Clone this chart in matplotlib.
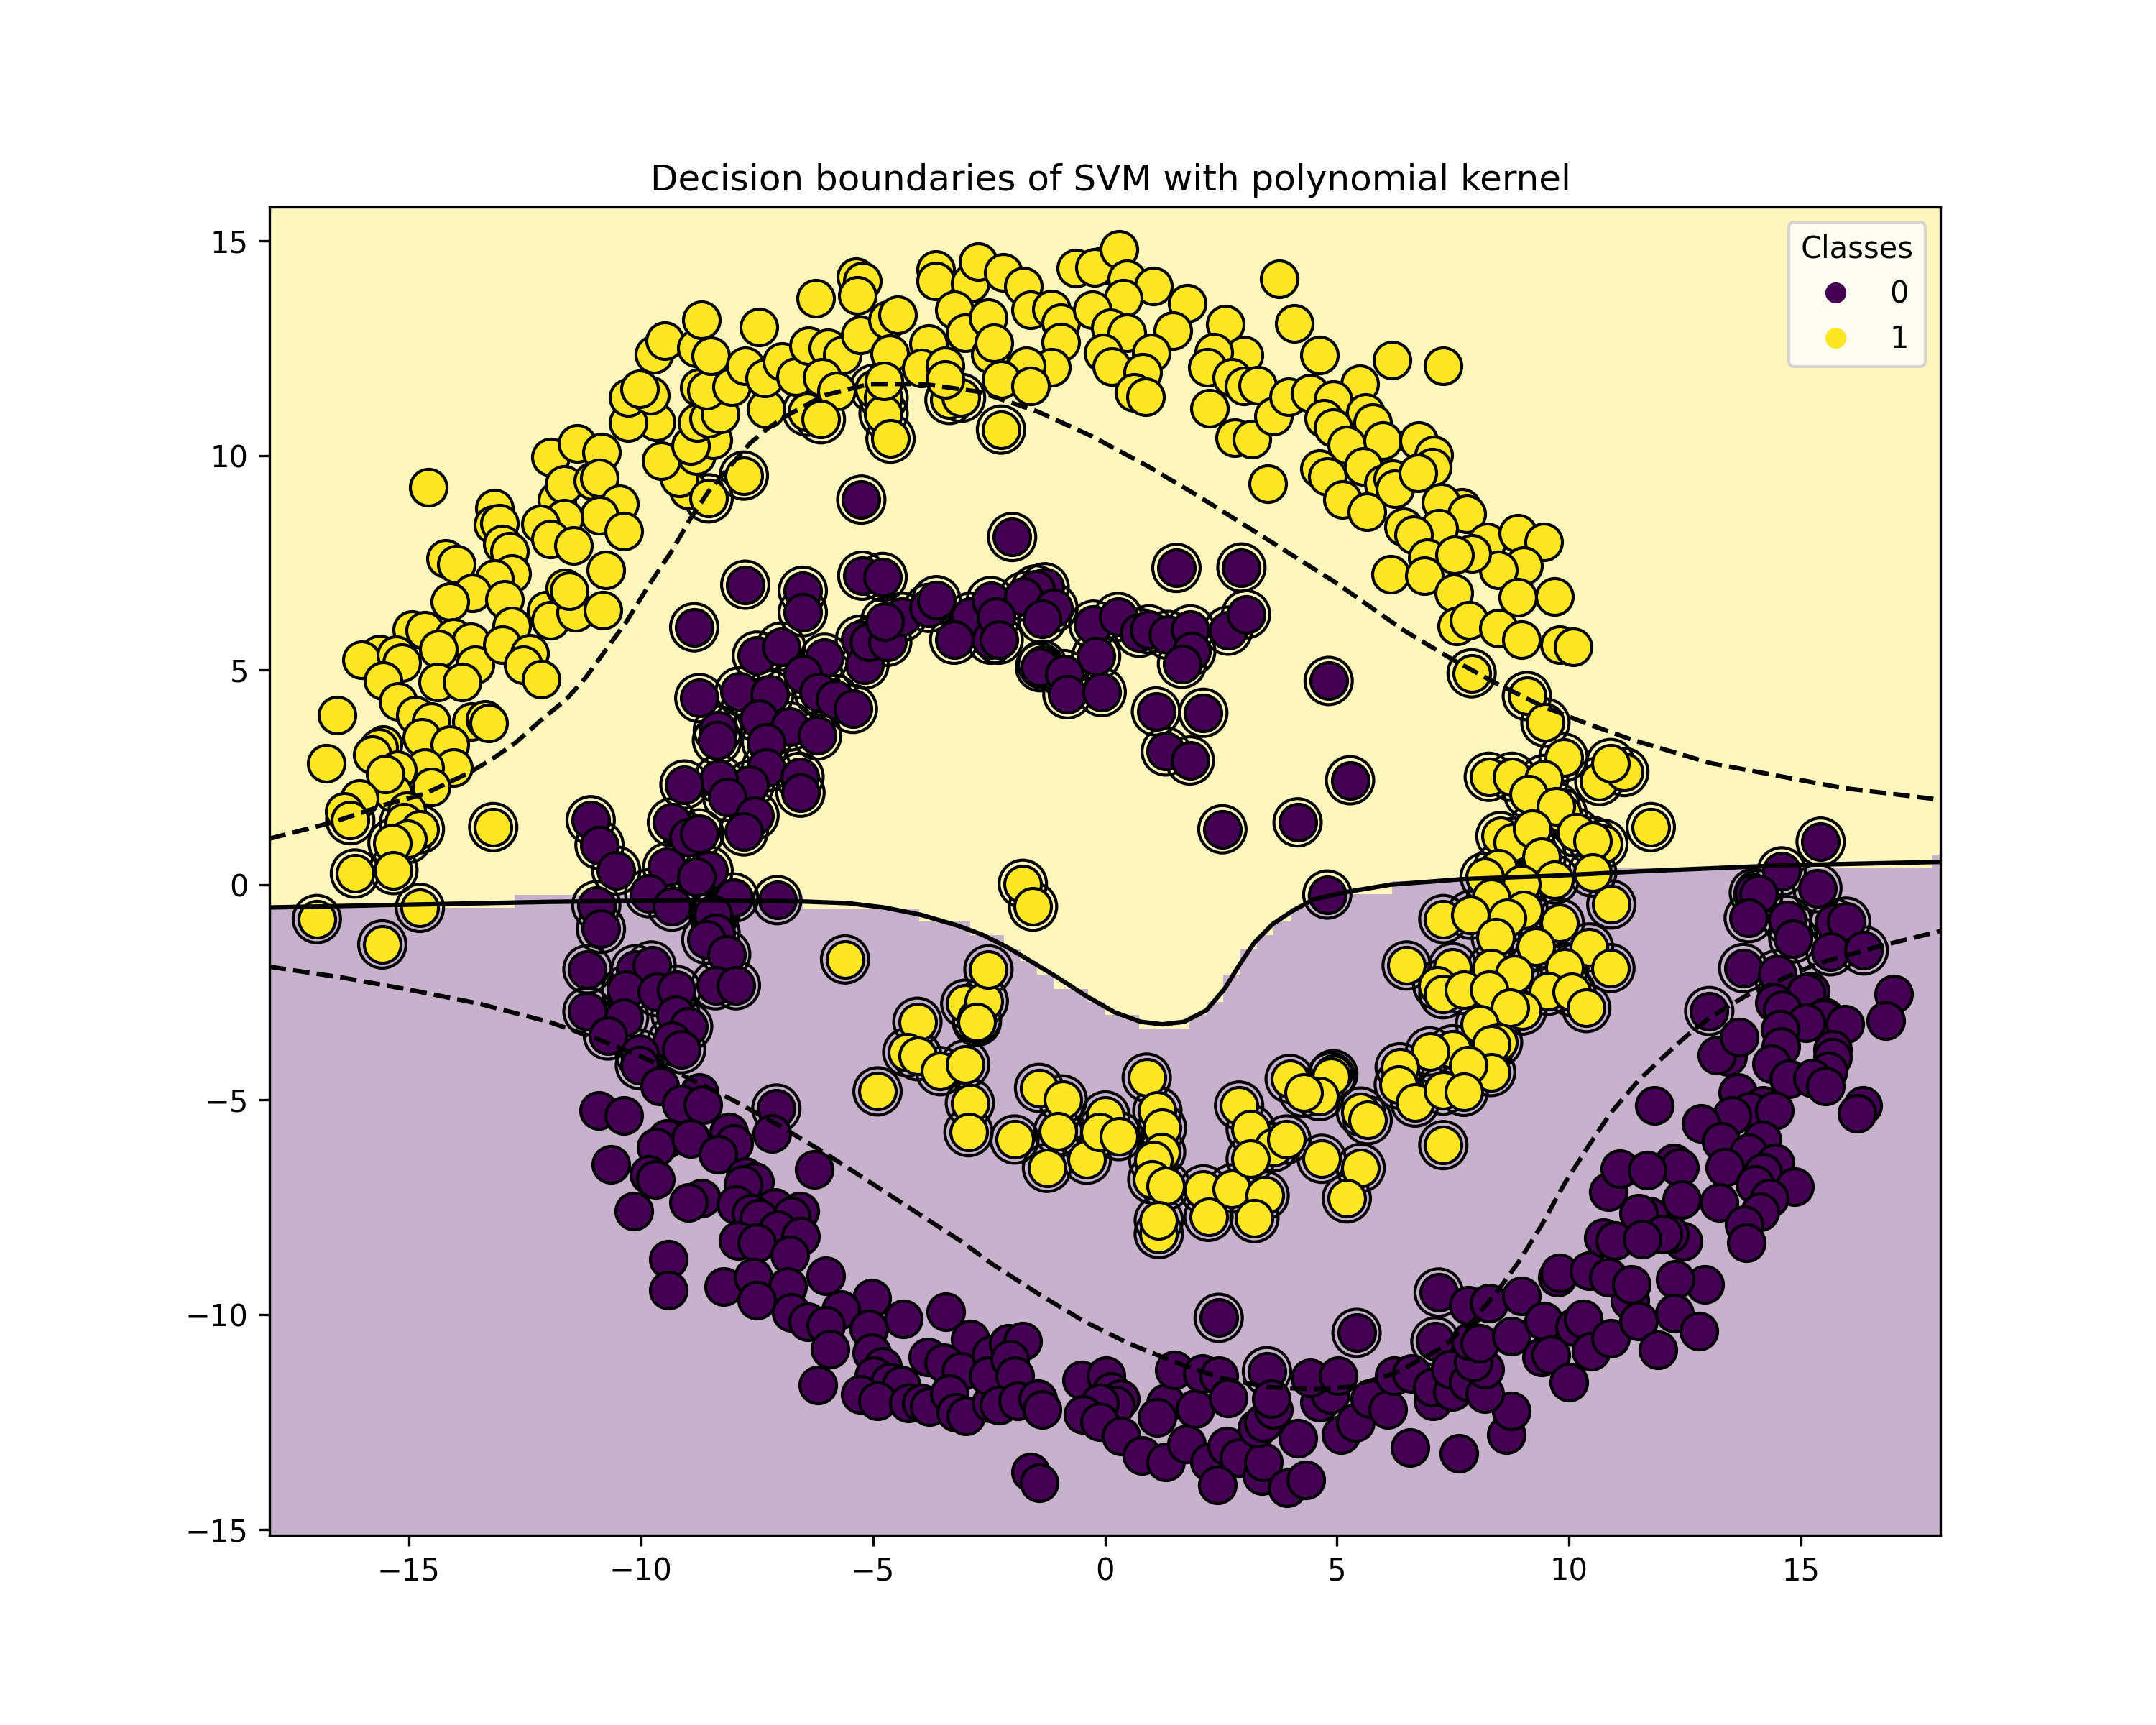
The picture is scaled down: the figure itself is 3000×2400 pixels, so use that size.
import numpy as np
import matplotlib
matplotlib.use("Agg")
import matplotlib.pyplot as plt
from matplotlib.lines import Line2D

# --- class 1, not support vectors
yellow_plain = [
(-14.58,9.25),(-13.15,8.77),(-13.18,8.39),(-13.05,8.42),(-12.98,7.94),(-12.83,7.76),(-12.78,7.25),(-14.2,7.6),(-13.97,7.46),
(-13.16,7.14),(-13.64,6.8),(-14.12,6.59),(-12.93,6.65),(-12.78,6.03),(-14.94,5.95),(-14.66,5.92),(-14.04,5.76),(-13.67,5.66),
(-14.36,5.5),(-13.57,5.13),(-12.98,5.6),(-12.39,5.39),(-12.54,5.13),(-12.14,4.79),(-12.04,6.4),(-11.94,6.17),(-11.4,6.35),
(-11.64,6.91),(-11.55,6.85),(-10.76,7.34),(-10.81,6.4),(-11.94,9.96),(-11.37,10.28),(-10.85,10.07),(-11.8,8.95),(-11.65,9.32),
(-11.04,9.41),(-10.9,9.48),(-10.46,8.87),(-10.89,8.61),(-11.65,8.53),(-12.16,8.4),(-11.94,8.05),(-11.45,7.91),(-10.37,8.23),
(-15.63,5.37),(-16.02,5.25),(-15.28,5.36),(-15.15,5.18),(-15.55,4.75),(-14.38,4.73),(-13.85,4.73),(-15.23,4.28),(-16.54,3.96),
(-16.78,2.84),(-14.86,3.96),(-14.51,3.8),(-14.71,3.43),(-13.65,3.81),(-13.36,3.85),(-13.28,3.77),(-15.55,3.27),(-15.65,3.21),
(-15.78,3.03),(-14.12,3.27),(-14.04,2.73),(-14.66,2.73),(-15.25,2.68),(-14.51,2.28),(-15.33,2.15),(-15.5,2.58),(-16.07,2.01),
(-15.05,1.73),(-16.39,1.71),(-8.98,9.19),(-9.18,9.48),(-9.56,9.87),(-8.81,9.99),(-8.44,10.36),(-8.93,10.23),(-8.79,10.76),
(-8.54,10.86),(-8.29,10.97),(-9.67,10.78),(-10.27,10.76),(-10.27,11.34),(-9.8,11.39),(-10.02,11.55),(-8.74,11.59),(-8.59,11.52),
(-8.04,11.6),(-7.3,11.08),(-9.72,12.35),(-9.48,12.67),(-8.8,12.51),(-8.69,13.15),(-8.49,12.32),(-7.45,12.99),(-7.75,12.08),
(-7.33,11.8),(-6.96,12.19),(-6.66,11.84),(-6.39,12.56),(-6.24,13.65),(-5.97,12.51),(-5.66,12.33),(-6.09,11.82),(-5.79,11.5),
(-5.36,14.16),(-5.23,14.05),(-5.33,13.73),(-5.28,12.8),(-4.69,13.15),(-4.46,13.27),(-4.64,12.37),(-3.8,12.6),(-3.65,14.32),
(-3.65,14.05),(-2.91,14.0),(-2.73,14.51),(-3.24,13.39),(-3.01,12.86),(-2.52,13.2),(-2.47,12.35),(-3.95,12.03),
(-2.19,14.26),(-1.75,13.94),(-1.6,13.39),(-1.16,13.41),(-0.96,13.09),(-2.39,12.62),(-0.96,12.64),
(-1.16,12.05),(-1.7,12.08),(-2.24,11.77),(-1.6,11.61),(-0.63,14.35),(-0.02,14.42),(-0.22,14.37),(0.3,14.79),(0.47,14.1),
(1.04,13.94),(0.39,13.66),(-0.27,13.39),(1.78,13.54),(0.11,12.97),(0.47,12.86),(1.46,12.9),(1.0,12.38),(-0.04,12.38),
(0.15,12.06),(0.82,11.93),(0.62,11.47),(0.87,11.36),(2.6,13.06),(2.99,12.33),(2.35,12.4),(2.2,12.05),(2.74,11.82),
(2.99,11.61),(3.29,11.63),(2.25,11.1),(2.79,10.41),(3.17,10.38),(3.63,10.92),(3.96,11.37),(4.42,11.45),(3.5,9.34),
(3.76,14.1),(4.08,13.07),(4.62,12.33),(5.49,11.66),(6.18,12.21),(7.29,12.08),(4.92,11.29),(5.61,10.99),(5.76,10.76),
(4.72,10.86),(4.92,10.65),(5.21,10.25),(5.98,10.35),(6.76,10.35),(7.09,10.01),(7.06,9.73),(4.62,9.69),(4.79,9.51),
(5.56,9.75),(6.0,9.34),(6.2,9.45),(6.25,9.22),(6.74,9.59),(5.11,8.98),(5.64,8.68),(6.43,8.33),(7.68,8.79),(7.24,8.9),
(7.8,8.63),(7.19,8.31),(6.65,8.15),(8.23,7.99),(8.89,8.19),(9.46,7.99),(9.02,7.44),(8.47,7.34),(7.91,7.71),(6.94,7.62),
(7.53,7.68),(6.15,7.23),(6.89,7.2),(7.51,6.79),(8.89,6.69),(9.69,6.72),(7.58,6.03),(7.85,6.16),(8.47,5.98),(8.97,5.71),
(9.8,5.6),(10.08,5.55),
]

# --- class 1, support vectors (ringed)
yellow_sv = [
(-16.26,1.51),(-15.1,1.46),(-14.76,1.3),(-15.03,1.07),(-15.35,0.98),(-13.18,1.35),(-16.16,0.27),(-15.33,0.35),(-14.76,-0.53),
(-16.98,-0.79),(-15.57,-1.38),(-8.54,9.0),(-7.78,9.53),(-6.42,11.02),(-6.12,10.84),(-3.35,11.29),(-3.1,11.34),(-4.98,11.55),
(-4.77,11.34),(-4.77,10.97),(-4.62,10.39),(-2.24,10.6),(7.9,4.93),(9.09,4.4),(9.49,3.78),(9.88,2.97),(8.27,2.52),(8.77,2.52),
(9.46,2.47),(9.12,2.12),(10.65,2.42),(11.19,2.63),(10.89,2.84),(11.76,1.35),(9.86,1.67),(9.71,1.83),(8.52,1.14),(8.79,1.0),
(9.21,1.32),(10.15,1.22),(9.41,0.66),(10.74,0.96),(10.5,1.03),(8.47,0.4),(8.18,0.19),(9.69,0.13),(10.5,0.29),(8.97,0.03),
(8.32,-0.29),(10.91,-0.45),(7.29,-0.79),(7.88,-0.69),(9.02,-0.57),(9.8,-0.88),(-1.77,0.03),(-1.55,-0.5),(8.67,-0.77),(8.42,-1.22),
(9.28,-1.43),(10.43,-1.45),(10.89,-1.93),(6.5,-1.87),(7.49,-1.91),(8.32,-1.94),(8.82,-2.07),(9.9,-1.91),(7.16,-2.33),(7.29,-2.54),
(7.73,-2.44),(8.28,-2.44),(9.54,-2.46),(10.05,-2.49),(10.37,-2.86),(8.99,-2.92),(8.72,-2.86),(8.08,-3.23),(8.47,-3.66),(8.32,-3.71),
(7.49,-3.82),(7.0,-3.87),(8.32,-4.35),(7.83,-4.19),(6.35,-4.24),(6.33,-4.64),(6.68,-5.06),(7.29,-4.78),(7.73,-4.81),(7.29,-6.05),
(3.98,-4.51),(4.92,-4.4),(4.87,-4.46),(4.62,-4.91),(4.28,-4.83),(5.51,-5.27),(5.66,-5.47),(0.9,-4.48),(1.13,-5.25),(1.23,-5.65),
(1.21,-6.21),(1.04,-6.4),(1.02,-6.85),(1.31,-7.0),(1.16,-8.12),(1.16,-7.8),(2.12,-7.08),(2.23,-7.72),(2.74,-7.06),(3.44,-7.22),
(3.22,-7.75),(2.89,-5.13),(3.14,-5.68),(3.63,-6.1),(3.14,-6.37),(3.91,-5.92),(4.67,-6.37),(5.51,-6.58),(5.21,-7.29),(-1.42,-4.72),
(-0.91,-4.99),(-1.01,-5.73),(-1.95,-5.92),(-1.25,-6.58),(-0.39,-6.39),(0.01,-5.36),(-0.12,-5.75),(0.3,-5.84),(-5.6,-1.73),
(-4.04,-3.18),(-4.26,-3.89),(-4.04,-3.98),(-3.55,-4.33),(-3.01,-4.17),(-4.9,-4.8),(-2.91,-5.07),(-2.94,-5.75),(-3.01,-2.76),
(-2.76,-3.11),(-2.61,-2.7),(-2.51,-1.96),(-2.76,-3.18),
]

# --- class 1 points that lie over the ringed ones
yellow_over = [(-4.76,11.73),(-3.45,12.08),(-3.45,11.77)]

# --- class 0, support vectors (ringed)
purple_sv = [
(-5.25,8.97),(-2.0,8.1),(-7.75,6.99),(-6.51,6.85),(-6.51,6.35),(-5.23,7.2),(-4.79,7.17),(-8.85,6.0),(-7.5,5.34),(-6.98,5.55),
(-6.04,5.29),(-6.51,4.91),(-5.28,5.71),(-5.18,5.13),(-5.08,5.66),(-4.69,5.66),(-4.37,6.24),(-4.74,6.13),(-3.8,6.45),(-3.63,6.63),
(-2.91,6.24),(-3.25,5.71),(-2.46,5.71),(-2.46,6.61),(-8.74,4.35),(-7.87,4.51),(-7.23,4.44),(-6.17,4.49),(-5.82,4.33),(-5.43,4.1),
(-7.45,3.87),(-6.79,3.69),(-8.34,3.61),(-8.36,3.37),(-7.3,3.32),(-6.2,3.48),(-7.3,2.74),(-6.58,2.52),(-6.56,2.15),(-7.65,2.34),
(-8.32,2.47),(-8.14,2.05),(-9.06,2.34),(-7.55,1.62),(-7.78,1.25),(-9.33,1.46),(-8.98,1.11),(-8.74,1.2),(-11.08,1.51),(-10.89,0.93),
(-10.53,0.34),(-9.43,0.42),(-8.54,0.34),(-8.81,0.19),(-9.82,-0.19),(-9.33,-0.5),(-8.39,-0.66),(-7.99,-0.29),(-7.06,-0.35),
(-10.96,-0.47),(-10.86,-1.02),(-8.44,-0.68),(-8.39,-1.11),(-8.59,-1.27),(-8.16,-1.61),(-11.15,-1.96),(-11.15,-2.94),(-10.12,-1.96),
(-9.77,-1.87),(-10.32,-2.44),(-9.65,-2.49),(-9.23,-2.44),(-8.39,-2.33),(-7.95,-2.33),(-9.25,-3.02),(-8.98,-3.29),(-10.36,-3.08),
(-10.71,-3.5),(-9.33,-3.63),(-9.13,-3.82),(-10.02,-3.93),(-10.02,-4.19),(-7.08,-5.2),(1.54,7.38),(2.94,7.39),(4.82,4.75),(5.28,2.44),
(2.53,1.3),(4.15,1.46),(4.79,-0.22),(1.31,3.11),(1.83,2.9),(1.1,4.04),(2.12,4.01),(-1.3,6.93),(-1.5,6.88),(-1.75,6.72),(-1.11,6.45),
(-1.35,6.19),(-2.34,6.24),(-2.29,5.71),(-0.25,6.06),(0.28,6.24),(0.74,5.87),(0.95,5.95),(1.36,5.82),(1.84,5.95),(1.86,5.44),
(1.66,5.15),(2.65,5.92),(3.04,6.3),(-0.19,5.32),(-1.35,5.13),(-1.4,5.07),(-0.88,4.91),(-0.81,4.44),(-0.07,4.49),(2.45,-10.07),
(5.42,-10.42),(7.19,-9.48),(7.12,-10.62),(3.49,-11.31),(15.42,1.01),(14.58,0.32),(15.35,-0.07),(13.98,-0.18),(14.08,-0.21),
(13.87,-0.77),(14.7,-0.82),(15.71,-0.88),(15.97,-0.85),(14.83,-1.24),(15.63,-1.54),(16.35,-1.52),(13.75,-1.93),(14.49,-2.07),
(13.02,-2.93),
]

# --- class 0, not support vectors
purple_plain = [
(-9.6,-4.67),(-8.74,-4.83),(-9.13,-5.09),(-8.67,-5.11),(-10.91,-5.25),(-10.36,-5.36),(-9.43,-5.89),(-9.67,-6.1),(-8.93,-5.89),
(-8.11,-5.75),(-7.99,-6.02),(-8.34,-6.26),(-7.17,-5.78),(-10.64,-6.5),(-9.82,-6.74),(-9.69,-6.85),(-6.27,-6.61),(-7.75,-6.79),
(-7.55,-6.9),(-7.8,-6.97),(-8.69,-7.29),(-8.98,-7.38),(-7.95,-7.43),(-10.15,-7.59),(-7.11,-7.51),(-6.58,-7.59),(-6.76,-7.7),
(-7.63,-7.64),(-7.45,-7.75),(-7.05,-8.02),(-6.56,-8.17),(-7.9,-8.28),(-7.5,-8.33),(-6.79,-8.6),(-9.4,-8.71),(-9.4,-9.42),
(-8.22,-9.34),(-7.58,-9.13),(-6.02,-9.1),(-6.83,-9.34),(-7.5,-9.66),(-5.03,-9.61),(-5.69,-9.87),(-6.76,-9.95),(-6.41,-10.16),
(-6.02,-10.25),(-4.34,-10.09),(-3.43,-9.93),(-5.08,-10.33),(-5.92,-10.8),(-5.03,-10.88),(-2.91,-10.57),(-3.82,-10.99),(-3.48,-11.12),
(-3.11,-11.31),(-2.46,-10.94),(-4.79,-11.2),(-4.98,-11.42),(-4.64,-11.57),(-4.39,-11.63),(-6.19,-11.63),(-5.28,-11.86),(-4.9,-12.0),
(-4.24,-12.05),(-3.95,-12.05),(-3.78,-12.14),(-3.35,-11.84),(-3.22,-12.27),(-2.99,-12.35),(-2.46,-12.05),(-2.51,-11.42),
(-2.09,-10.67),(-1.77,-10.62),(-2.05,-11.04),(-1.95,-11.42),(-2.29,-12.11),(-1.88,-12.0),(-1.45,-11.95),(-1.35,-12.21),(-1.6,-13.65),
(-1.42,-13.91),(-0.51,-11.52),(0.03,-11.42),(0.13,-11.79),(0.33,-11.95),(0.23,-12.11),(-0.12,-12.05),(-0.47,-12.32),(-0.12,-12.48),
(0.35,-12.82),(0.79,-13.27),(1.31,-13.43),(1.76,-13.01),(1.31,-12.05),(1.12,-12.39),(1.49,-11.29),(1.95,-12.19),(2.1,-11.36),
(2.45,-11.42),(2.65,-11.93),(2.25,-13.43),(2.63,-13.06),(2.89,-13.33),(2.43,-13.96),(3.39,-13.75),(3.42,-13.43),(3.27,-12.64),
(3.41,-12.5),(3.63,-12.21),(3.58,-11.95),(3.93,-14.02),(4.33,-13.84),(4.15,-12.88),(5.09,-12.78),(5.39,-12.5),(4.62,-12.03),
(4.85,-11.86),(4.42,-11.47),(5.02,-11.42),(5.71,-11.95),(6.1,-12.21),(6.23,-11.42),(6.6,-11.36),(6.57,-13.09),(7.63,-13.22),
(8.64,-12.78),(8.75,-12.24),(7.07,-12.0),(7.06,-11.68),(7.49,-11.79),(7.44,-11.26),(7.83,-11.57),(8.18,-11.84),(8.18,-11.26),
(7.93,-11.1),(7.88,-10.62),(8.08,-10.67),(7.83,-9.77),(8.28,-9.72),(8.97,-9.56),(8.75,-10.49),(9.46,-10.14),(9.41,-10.99),
(9.61,-10.94),(10.0,-11.57),(10.12,-10.28),(10.3,-10.09),(10.47,-10.85),(10.89,-10.54),(11.31,-9.66),(9.74,-9.13),(9.8,-9.02),
(10.43,-8.97),(10.84,-9.13),(11.34,-9.29),(10.74,-8.21),(10.99,-8.28),(11.73,-7.7),(10.84,-7.14),(11.09,-6.6),
(15.19,-2.46),(15.11,-2.51),(14.42,-2.74),(14.6,-2.9),(15.5,-3.07),(15.47,-3.1),(15.11,-3.21),(15.94,-3.24),(17.0,-2.54),(16.82,-3.15),
(14.54,-3.35),(14.57,-3.76),(15.68,-3.82),(15.68,-4.01),(15.58,-4.32),(14.36,-4.15),(13.41,-3.99),(13.18,-3.96),(13.66,-3.54),
(14.73,-4.51),(15.24,-4.49),(15.53,-4.68),(13.64,-4.82),(14.18,-5.12),(13.9,-5.26),(14.43,-5.24),(13.51,-5.37),(12.85,-5.54),
(11.84,-5.12),(16.33,-5.12),(16.2,-5.32),(13.28,-5.96),(14.16,-5.93),(13.87,-6.24),(14.44,-6.46),(13.36,-6.57),(12.25,-6.46),
(12.38,-6.57),(11.68,-6.63),(14.18,-6.68),(14.86,-7.02),(14.01,-6.96),(13.23,-7.38),(14.31,-7.29),(14.11,-7.6),(12.43,-7.32),
(11.5,-7.63),(13.77,-7.9),(13.82,-8.32),(12.45,-8.29),(12.17,-8.13),(12.02,-8.13),(11.58,-8.24),(12.92,-9.29),(12.29,-9.18),
(12.27,-9.96),(11.5,-10.15),(12.8,-10.38),(11.91,-10.82),
]

# --- decision function levels
boundary = [(-18,-0.52),(-12,-0.39),(-9,-0.35),(-7,-0.37),(-6.54,-0.38),(-5.55,-0.42),(-4.76,-0.52),(-3.97,-0.69),(-3.18,-0.94),(-2.63,-1.16),
            (-2.08,-1.46),(-1.6,-1.77),(-1.05,-2.13),(-0.42,-2.57),(0.21,-2.96),(0.77,-3.18),(1.24,-3.24),(1.71,-3.18),(2.19,-2.91),
            (2.58,-2.41),(2.9,-1.85),(3.21,-1.35),(3.61,-0.91),(4.04,-0.6),(4.5,-0.33),(5.26,-0.15),(6.15,0.01),(7.73,0.14),(9.71,0.22),
            (11.5,0.32),(14.6,0.46),(18,0.54)]
margin_upper = [(-18,1.08),(-16.64,1.46),(-15.45,1.89),(-14.66,2.12),(-13.67,2.63),(-13.18,2.95),(-12.69,3.32),(-12.19,3.8),(-11.6,4.33),
                (-11.2,4.81),(-10.81,5.39),(-10.31,6.13),(-9.82,6.99),(-9.33,7.78),(-8.93,8.53),(-8.54,9.16),(-8.1,9.72),(-7.65,10.28),(-7.25,10.64),
                (-6.86,10.92),(-6.07,11.39),(-5.08,11.66),(-3.9,11.66),(-2.71,11.48),(-1.45,11.02),(-0.27,10.44),
                (0.92,9.75),(2.0,9.06),(3.49,8.05),(4.97,7.04),(6.45,5.92),(7.44,5.28),(8.42,4.7),(9.41,4.17),(10.4,3.75),(11.39,3.37),
                (13.04,2.84),(15.89,2.26),(17.82,2.01),(18,1.98)]
margin_lower = [(-18,-1.9),(-16.44,-2.15),(-14.96,-2.44),(-13.48,-2.76),(-11.99,-3.18),(-11.0,-3.55),(-10.02,-3.98),(-9.03,-4.46),(-8.04,-4.99),
                (-7.06,-5.57),(-6.07,-6.21),(-5.08,-6.9),(-4.1,-7.59),(-3.11,-8.28),(-2.44,-8.81),(-1.45,-9.5),(-0.47,-10.14),(0.52,-10.67),
                (1.51,-11.1),(2.5,-11.47),(3.49,-11.68),(4.47,-11.73),(5.26,-11.68),(6.25,-11.36),(7.24,-10.78),(7.93,-10.14),(8.42,-9.5),
                (8.92,-8.76),(9.41,-7.91),(9.9,-6.95),(10.4,-6.1),(10.89,-5.31),(11.5,-4.54),(12.02,-4.01),(12.53,-3.51),(13.05,-3.07),
                (13.82,-2.57),(14.6,-2.18),(15.37,-1.82),(16.66,-1.43),(18,-1.07)]

# --- stepped top of the class-0 region of the coarse prediction grid
region_edges = [-18,-12.72,-6.5,-4.0,-2.91,-2.17,-1.82,-1.46,-1.09,-0.37,0.0,0.73,1.82,2.19,2.55,2.91,3.28,3.63,4.0,4.36,6.18,9.1,17.82,18]
region_tops = [-0.53,-0.23,-0.55,-0.85,-1.16,-1.48,-1.77,-2.09,-2.41,-2.72,-3.02,-3.34,-3.02,-2.72,-2.09,-1.48,-1.16,-0.85,-0.53,-0.21,0.09,0.4,0.71]

x_ticks = [-15,-10,-5,0,5,10,15]
y_ticks = [-15,-10,-5,0,5,10,15]
class_labels = ["0", "1"]
title = "Decision boundaries of SVM with polynomial kernel"

PURPLE = "#440154"
YELLOW = "#fde725"
X_LIM = (-18, 18)
Y_LIM = (-15.13, 15.78)

fig, ax = plt.subplots(figsize=(10, 8), dpi=300)

# background regions
ax.fill_between(X_LIM, Y_LIM[0], Y_LIM[1], color=YELLOW, alpha=0.3, linewidth=0, zorder=0)
ax.set_facecolor("white")
edges = np.array(region_edges)
tops = np.array(region_tops)
ax.fill_between(np.repeat(edges, 2)[1:-1], Y_LIM[0], np.repeat(tops, 2), color="white", linewidth=0, zorder=0.5)
ax.fill_between(np.repeat(edges, 2)[1:-1], Y_LIM[0], np.repeat(tops, 2), color=PURPLE, alpha=0.3, linewidth=0, zorder=0.6)

# support vector rings
all_sv = np.array(purple_sv + yellow_sv)
ax.scatter(all_sv[:, 0], all_sv[:, 1], s=250, facecolors="none", edgecolors="k", linewidths=1.0, zorder=2)

# points
p_sv = np.array(purple_sv)
p_plain = np.array(purple_plain)
y_plain = np.array(yellow_plain)
y_sv = np.array(yellow_sv)
y_over = np.array(yellow_over)
for arr, col in ((p_sv, PURPLE), (p_plain, PURPLE), (y_plain, YELLOW), (y_sv, YELLOW), (y_over, YELLOW)):
    ax.scatter(arr[:, 0], arr[:, 1], s=150, c=col, edgecolors="k", linewidths=1.0, zorder=3)

# decision lines on top of the points
for pts, ls in ((margin_lower, "--"), (boundary, "-"), (margin_upper, "--")):
    a = np.array(pts)
    ax.plot(a[:, 0], a[:, 1], color="k", linestyle=ls, linewidth=1.5, zorder=4)

ax.set_xlim(*X_LIM)
ax.set_ylim(*Y_LIM)
ax.set_xticks(x_ticks)
ax.set_yticks(y_ticks)
ax.set_title(title, x=0.5033, pad=5.6)

handles = [Line2D([], [], marker="o", linestyle="", color=PURPLE, markersize=6),
           Line2D([], [], marker="o", linestyle="", color=YELLOW, markersize=6)]
ax.legend(handles, class_labels, loc="upper right", title="Classes")

fig.savefig("out.png", dpi=300)
